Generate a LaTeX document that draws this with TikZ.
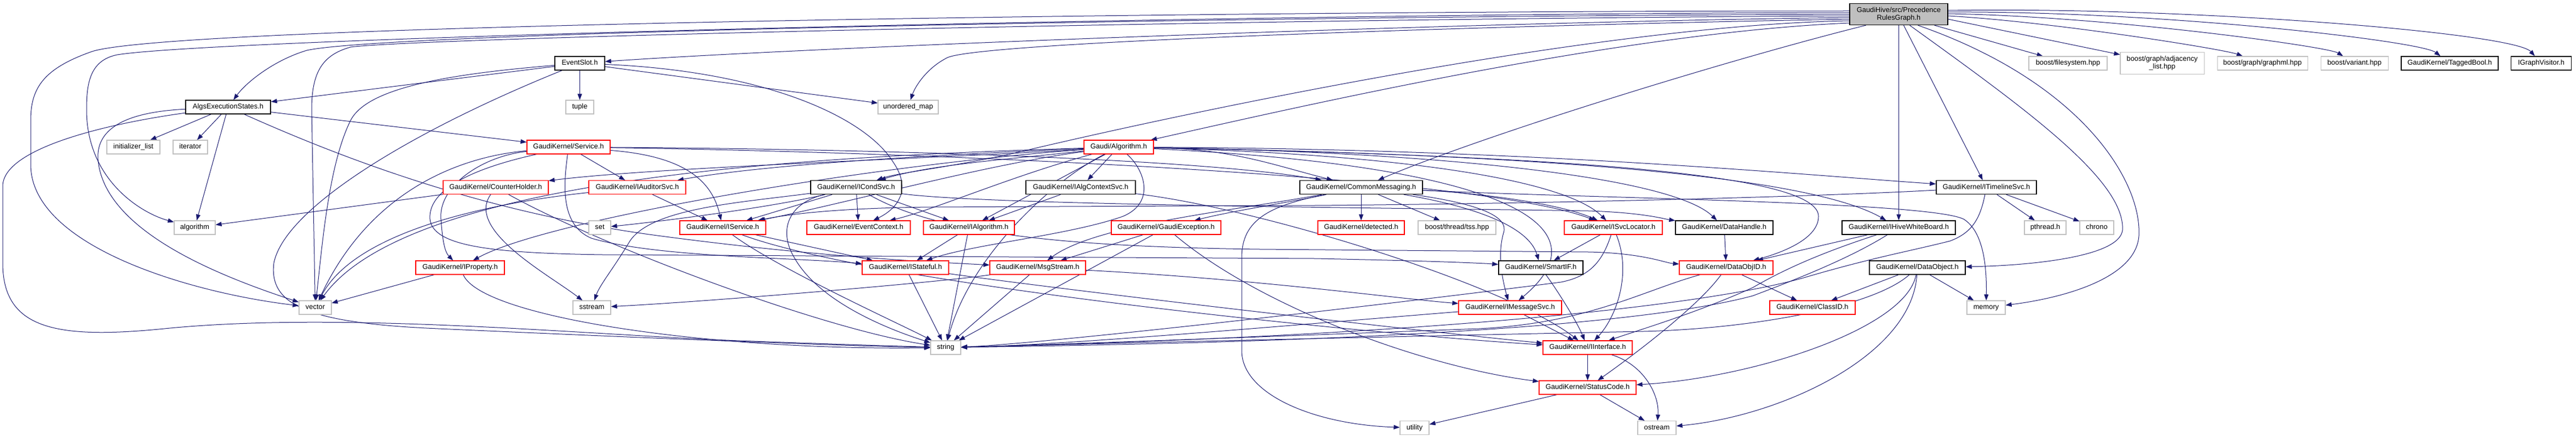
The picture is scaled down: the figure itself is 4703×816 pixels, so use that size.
\documentclass[tikz,border=0pt]{standalone}
\usepackage{fontspec}
\setmainfont{Liberation Sans}
\usetikzlibrary{arrows.meta}
\definecolor{edgeblue}{RGB}{25,25,112}
\definecolor{sysgray}{RGB}{192,192,192}
\definecolor{rootfill}{RGB}{191,191,191}
\pgfdeclarelayer{edgelayer}
\pgfsetlayers{edgelayer,main}
\tikzset{
  nodebase/.style={rectangle, inner sep=0pt, fill=white, font=\fontsize{12.9}{14}\selectfont, align=center},
  oneline/.style={nodebase, minimum height=25pt, text height=9.4pt, text depth=2.6pt},
  sysnode/.style={oneline, draw=sysgray, line width=1.1pt},
  rednode/.style={oneline, draw=red, line width=1.1pt},
  blknode/.style={oneline, draw=black, line width=1.4pt},
  rootnode/.style={nodebase, draw=black, fill=rootfill, line width=1.4pt, minimum height=39pt},
  sysnodetwo/.style={nodebase, draw=sysgray, line width=1.1pt, minimum height=40pt},
  dep/.style={draw=edgeblue, line width=1pt, -{Triangle[length=11pt,width=8pt]}},
}
\begin{document}
\begin{tikzpicture}[x=1pt,y=-1pt]
\useasboundingbox (0,0) rectangle (4703,816);
% ---------- nodes ----------
\node[rootnode, minimum width=179pt] (R) at (3466.5,26) {GaudiHive/src/Precedence\\RulesGraph.h};
\node[blknode, minimum width=91pt] (es) at (1058.5,115.5) {EventSlot.h};
\node[sysnode, minimum width=143pt] (fs) at (3775.5,115.5) {boost/filesystem.hpp};
\node[sysnodetwo, minimum width=153pt] (adj) at (3947.5,115.5) {boost/graph/adjacency\\\_list.hpp};
\node[sysnode, minimum width=165pt] (gml) at (4130.5,115.5) {boost/graph/graphml.hpp};
\node[sysnode, minimum width=123pt] (var) at (4298.5,115.5) {boost/variant.hpp};
\node[blknode, minimum width=177pt] (tb) at (4472.5,115.5) {GaudiKernel/TaggedBool.h};
\node[blknode, minimum width=110pt] (igv) at (4639.5,115.5) {IGraphVisitor.h};
\node[blknode, minimum width=155pt] (aes) at (416.5,195.5) {AlgsExecutionStates.h};
\node[sysnode, minimum width=51pt] (tuple) at (1058.5,195.5) {tuple};
\node[sysnode, minimum width=110pt] (umap) at (1658,195.5) {unordered\_map};
\node[sysnode, minimum width=97pt] (initl) at (243.5,268.5) {initializer\_list};
\node[sysnode, minimum width=63pt] (iter) at (347.5,268.5) {iterator};
\node[rednode, minimum width=152pt] (svc) at (1038,268.5) {GaudiKernel/Service.h};
\node[rednode, minimum width=127pt] (alg) at (2042.5,268.5) {Gaudi/Algorithm.h};
\node[rednode, minimum width=192pt] (ch) at (905,342) {GaudiKernel/CounterHolder.h};
\node[rednode, minimum width=177pt] (iaud) at (1163.5,342) {GaudiKernel/IAuditorSvc.h};
\node[blknode, minimum width=166pt] (icond) at (1563,342) {GaudiKernel/ICondSvc.h};
\node[blknode, minimum width=200pt] (iactx) at (1973,342) {GaudiKernel/IAlgContextSvc.h};
\node[blknode, minimum width=224pt] (cm) at (2485,342) {GaudiKernel/CommonMessaging.h};
\node[blknode, minimum width=183pt] (itl) at (3626.5,342) {GaudiKernel/ITimelineSvc.h};
\node[sysnode, minimum width=75pt] (algo) at (355.5,415.5) {algorithm};
\node[sysnode, minimum width=40pt] (nset) at (1095,415.5) {set};
\node[rednode, minimum width=157pt] (isvc) at (1319.5,415.5) {GaudiKernel/IService.h};
\node[rednode, minimum width=189pt] (ec) at (1567.5,415.5) {GaudiKernel/EventContext.h};
\node[rednode, minimum width=166pt] (ialg) at (1769,415.5) {GaudiKernel/IAlgorithm.h};
\node[rednode, minimum width=200pt] (ge) at (2129,415.5) {GaudiKernel/GaudiException.h};
\node[rednode, minimum width=158pt] (det) at (2485,415.5) {GaudiKernel/detected.h};
\node[sysnode, minimum width=142pt] (tss) at (2660,415.5) {boost/thread/tss.hpp};
\node[rednode, minimum width=179pt] (isvcloc) at (2945.5,415.5) {GaudiKernel/ISvcLocator.h};
\node[blknode, minimum width=178pt] (dh) at (3148,415.5) {GaudiKernel/DataHandle.h};
\node[blknode, minimum width=207pt] (ihwb) at (3466.5,415.5) {GaudiKernel/IHiveWhiteBoard.h};
\node[sysnode, minimum width=76pt] (pthr) at (3734,415.5) {pthread.h};
\node[sysnode, minimum width=62pt] (chrono) at (3828,415.5) {chrono};
\node[rednode, minimum width=162pt] (iprop) at (840,488.5) {GaudiKernel/IProperty.h};
\node[rednode, minimum width=158pt] (istate) at (1653,488.5) {GaudiKernel/IStateful.h};
\node[rednode, minimum width=175pt] (msg) at (1894.5,488.5) {GaudiKernel/MsgStream.h};
\node[blknode, minimum width=154pt] (smartif) at (2813,488.5) {GaudiKernel/SmartIF.h};
\node[rednode, minimum width=171pt] (doid) at (3151.5,488.5) {GaudiKernel/DataObjID.h};
\node[blknode, minimum width=175pt] (dobj) at (3500.5,488.5) {GaudiKernel/DataObject.h};
\node[sysnode, minimum width=59pt] (nvector) at (575.5,561.5) {vector};
\node[sysnode, minimum width=69pt] (sstream) at (1080.5,561.5) {sstream};
\node[rednode, minimum width=188pt] (imsg) at (2757,561.5) {GaudiKernel/IMessageSvc.h};
\node[rednode, minimum width=156pt] (classid) at (3309,561.5) {GaudiKernel/ClassID.h};
\node[sysnode, minimum width=70pt] (nmemory) at (3626,561.5) {memory};
\node[sysnode, minimum width=55pt] (nstring) at (1726.5,634.5) {string};
\node[rednode, minimum width=163pt] (iinterf) at (2898.5,634.5) {GaudiKernel/IInterface.h};
\node[rednode, minimum width=177pt] (sc) at (2898.5,707.5) {GaudiKernel/StatusCode.h};
\node[sysnode, minimum width=53pt] (utility) at (2582.5,781) {utility};
\node[sysnode, minimum width=70pt] (ostream) at (3025,781) {ostream};
% ---------- edges ----------
\begin{pgfonlayer}{edgelayer}
\fill[white] (0,0) rectangle (4703,816);
% root
\draw[dep] ([yshift=7pt]R.east) .. controls (4000,12) and (4590,60) .. (igv);
\draw[dep] ([yshift=4pt]R.east) .. controls (3950,20) and (4420,75) .. (tb);
\draw[dep] ([yshift=1pt]R.east) .. controls (3850,30) and (4250,85) .. (var);
\draw[dep] ([yshift=-3pt]R.east) .. controls (3750,40) and (4060,90) .. (gml);
\draw[dep] ([yshift=-9pt]R.east) -- (adj);
\draw[dep] ([xshift=-25pt]R.south east) -- (fs);
\draw[dep] ([xshift=9pt]R.south) -- (itl);
\draw[dep] (R) -- (ihwb);
\draw[dep] ([xshift=20pt]R.south) .. controls (3700,200) and (3880,330) .. (3875,420) .. controls (3870,470) and (3700,485) .. (dobj);
\draw[dep] ([xshift=35pt]R.south) .. controls (3800,150) and (3910,330) .. (3905,430) .. controls (3900,510) and (3760,545) .. (nmemory);
\draw[dep] ([xshift=-60pt]R.south) .. controls (3150,110) and (2700,250) .. (cm);
\draw[dep] ([yshift=-16pt]R.west) .. controls (2950,60) and (2350,200) .. (alg);
\draw[dep] ([yshift=-12pt]R.west) .. controls (2950,45) and (2250,185) .. (1850,280) .. controls (1720,308) and (1640,315) .. (icond);
\draw[dep] ([yshift=-9pt]R.west) .. controls (2800,45) and (1800,75) .. (1730,105) .. controls (1690,125) and (1670,160) .. (umap);
\draw[dep] ([yshift=-6pt]R.west) .. controls (2700,40) and (1500,85) .. (es);
\draw[dep] ([yshift=0pt]R.west) .. controls (2200,30) and (700,60) .. (560,92) .. controls (500,110) and (450,150) .. (aes);
\draw[dep] ([yshift=3pt]R.west) .. controls (2200,25) and (400,70) .. (214,100) .. controls (165,110) and (158,150) .. (158,200) .. controls (158,330) and (260,390) .. (algo);
\draw[dep] ([yshift=6pt]R.west) .. controls (2200,20) and (320,45) .. (168,94) .. controls (80,125) and (56,160) .. (56,220) -- (56,300) .. controls (56,450) and (350,535) .. (nvector);
\draw[dep] ([yshift=-3pt]R.west) .. controls (2200,35) and (750,70) .. (640,86) .. controls (590,100) and (569,130) .. (569,200) -- (nvector);
% EventSlot
\draw[dep] (es) -- (tuple);
\draw[dep] (es) -- (umap);
\draw[dep] (es) .. controls (1400,130) and (1580,215) .. (1630,295) .. controls (1665,345) and (1640,380) .. (ec);
\draw[dep] (es) -- (aes);
\draw[dep] (es) .. controls (820,135) and (670,160) .. (640,220) .. controls (600,300) and (588,450) .. (nvector);
\draw[dep] (es) .. controls (750,240) and (520,380) .. (500,480) .. controls (490,560) and (570,590) .. (800,600) .. controls (1200,618) and (1550,632) .. (nstring);
% AlgsExecutionStates
\draw[dep] (aes) -- (initl);
\draw[dep] (aes) -- (iter);
\draw[dep] (aes) -- (algo);
\draw[dep] (aes) .. controls (220,205) and (170,240) .. (180,300) .. controls (200,430) and (420,510) .. (nvector);
\draw[dep] (aes) .. controls (200,225) and (5,270) .. (5,340) -- (5,480) .. controls (5,600) and (100,620) .. (300,600) .. controls (600,570) and (1000,605) .. (1300,620) .. controls (1500,628) and (1650,632) .. (nstring);
\draw[dep] (aes) -- (svc);
\draw[dep] (aes) .. controls (650,300) and (900,390) .. (1200,430) .. controls (1500,470) and (1700,478) .. (msg);
% Service
\draw[dep] (svc) -- (iaud);
\draw[dep] (svc) .. controls (1250,285) and (1300,330) .. (isvc);
\draw[dep] (svc) .. controls (880,285) and (800,340) .. (805,400) .. controls (808,440) and (812,460) .. (iprop);
\draw[dep] (svc) .. controls (1030,330) and (1020,410) .. (1080,435) .. controls (1200,470) and (1450,470) .. (istate);
\draw[dep] (svc) .. controls (1600,272) and (2200,290) .. (cm);
\draw[dep] (svc) .. controls (1700,278) and (2700,320) .. (isvcloc);
\draw[dep] (svc) .. controls (920,295) and (780,330) .. (785,400) .. controls (790,450) and (900,462) .. (1100,465) -- (2400,472) .. controls (2600,476) and (2700,480) .. (smartif);
\draw[dep] (svc) .. controls (850,285) and (680,340) .. (nvector);
% Algorithm
\draw[dep] (alg) .. controls (1700,290) and (1200,305) .. (ch);
\draw[dep] (alg) .. controls (1700,283) and (1400,300) .. (iaud);
\draw[dep] (alg) .. controls (1850,290) and (1700,300) .. (icond);
\draw[dep] (alg) .. controls (1800,300) and (1550,370) .. (isvc);
\draw[dep] (alg) .. controls (1850,320) and (1700,385) .. (ec);
\draw[dep] (alg) .. controls (1600,300) and (1000,400) .. (iprop);
\draw[dep] (alg) .. controls (1500,285) and (750,320) .. (nvector);
\draw[dep] (alg) .. controls (1920,330) and (1770,470) .. (nstring);
\draw[dep] (alg) .. controls (2090,310) and (2110,370) .. (2050,395) .. controls (1950,430) and (1780,445) .. (istate);
\draw[dep] (alg) -- (ialg);
\draw[dep] (alg) -- (iactx);
\draw[dep] (alg) .. controls (2250,272) and (2320,300) .. (cm);
\draw[dep] (alg) .. controls (2500,280) and (2850,320) .. (isvcloc);
\draw[dep] (alg) .. controls (2600,277) and (3050,320) .. (dh);
\draw[dep] (alg) .. controls (2800,282) and (3300,320) .. (ihwb);
\draw[dep] (alg) .. controls (2800,272) and (3300,320) .. (itl);
\draw[dep] (alg) .. controls (2900,286) and (3320,320) .. (3320,395) .. controls (3320,440) and (3240,465) .. (doid);
\draw[dep] (alg) .. controls (2700,300) and (2950,400) .. (imsg);
% CounterHolder
\draw[dep] (ch) -- (algo);
\draw[dep] (ch) .. controls (1100,450) and (1500,600) .. (nstring);
\draw[dep] (ch) .. controls (850,420) and (1000,500) .. (sstream);
% IAuditorSvc
\draw[dep] (iaud) -- (isvc);
\draw[dep] (iaud) .. controls (900,370) and (650,420) .. (nvector);
% ICondSvc
\draw[dep] (icond) -- (ec);
\draw[dep] (icond) -- (ialg);
\draw[dep] (icond) -- (isvc);
\draw[dep] (icond) .. controls (1400,380) and (1200,405) .. (nset);
\draw[dep] (icond) .. controls (1350,370) and (1190,380) .. (1150,440) .. controls (1120,490) and (1095,520) .. (sstream);
\draw[dep] (icond) .. controls (1800,375) and (2600,380) .. (2900,385) .. controls (3000,388) and (3040,400) .. (dh);
\draw[dep] (icond) .. controls (1700,420) and (1900,450) .. (2300,455) -- (2900,460) .. controls (3000,462) and (3040,480) .. (doid);
\draw[dep] (icond) .. controls (1440,370) and (1420,420) .. (1450,470) .. controls (1500,560) and (1650,610) .. (nstring);
% IAlgContextSvc
\draw[dep] (iactx) -- (ialg);
\draw[dep] (iactx) .. controls (2300,380) and (2750,520) .. (iinterf);
% CommonMessaging
\draw[dep] (cm) -- (det);
\draw[dep] (cm) -- (tss);
\draw[dep] (cm) .. controls (2350,370) and (2250,385) .. (ge);
\draw[dep] (cm) .. controls (2250,385) and (2000,410) .. (msg);
\draw[dep] (cm) .. controls (2700,372) and (2755,395) .. (2745,425) .. controls (2735,460) and (2740,500) .. (imsg);
\draw[dep] (cm) .. controls (2700,352) and (2850,372) .. (isvcloc);
\draw[dep] (cm) .. controls (2680,375) and (2790,410) .. (smartif);
\draw[dep] (cm) .. controls (2320,375) and (2267,400) .. (2267,470) -- (2267,640) .. controls (2267,720) and (2400,775) .. (utility);
\draw[dep] (cm) .. controls (2900,362) and (3520,368) .. (3585,400) .. controls (3625,425) and (3627,500) .. (nmemory);
% GaudiException
\draw[dep] (ge) -- (msg);
\draw[dep] (ge) -- (nstring);
\draw[dep] (ge) .. controls (2300,560) and (2600,670) .. (sc);
% MsgStream
\draw[dep] (msg) -- (nstring);
\draw[dep] (msg) .. controls (1720,515) and (1300,550) .. (sstream);
\draw[dep] (msg) .. controls (2300,510) and (2550,545) .. (imsg);
% IStateful
\draw[dep] (istate) -- (nstring);
\draw[dep] (istate) .. controls (1950,530) and (2550,600) .. (iinterf);
% IAlgorithm
\draw[dep] (ialg) -- (istate);
\draw[dep] (ialg) -- (nstring);
% IService
\draw[dep] (isvc) -- (istate);
\draw[dep] (isvc) .. controls (1420,490) and (1640,590) .. (nstring);
\draw[dep] (isvc) .. controls (1600,520) and (2500,610) .. (iinterf);
% IProperty
\draw[dep] (iprop) -- (nvector);
\draw[dep] (iprop) .. controls (880,580) and (1300,640) .. (nstring);
% ISvcLocator
\draw[dep] (isvcloc) -- (smartif);
\draw[dep] (isvcloc) .. controls (2980,500) and (2950,580) .. (iinterf);
\draw[dep] (isvcloc) .. controls (2925,480) and (2900,505) .. (2850,515) .. controls (2500,560) and (1900,628) .. (nstring);
% SmartIF
\draw[dep] (smartif) .. controls (2850,540) and (2880,590) .. (iinterf);
% IMessageSvc
\draw[dep] (imsg) -- (iinterf);
\draw[dep] (imsg) .. controls (2400,590) and (1950,630) .. (nstring);
% IInterface / StatusCode
\draw[dep] (iinterf) -- (sc);
\draw[dep] (iinterf) .. controls (3000,665) and (3030,720) .. (ostream);
\draw[dep] (sc) -- (utility);
\draw[dep] (sc) -- (ostream);
% DataHandle / DataObjID / DataObject
\draw[dep] (dh) -- (doid);
\draw[dep] (doid) -- (classid);
\draw[dep] (doid) .. controls (3100,560) and (2980,650) .. (sc);
\draw[dep] (doid) .. controls (3000,530) and (2900,590) .. (2700,600) .. controls (2300,615) and (1900,630) .. (nstring);
\draw[dep] (dobj) -- (classid);
\draw[dep] (dobj) -- (nmemory);
\draw[dep] (dobj) .. controls (3420,560) and (3200,600) .. (3000,605) .. controls (2500,615) and (1900,630) .. (nstring);
\draw[dep] (dobj) .. controls (3480,600) and (3200,690) .. (sc);
\draw[dep] (dobj) .. controls (3490,650) and (3250,760) .. (ostream);
% IHiveWhiteBoard
\draw[dep] (ihwb) -- (doid);
\draw[dep] (ihwb) .. controls (3330,460) and (3260,490) .. (3200,525) .. controls (3100,570) and (3000,600) .. (iinterf);
\draw[dep] (ihwb) .. controls (3380,470) and (3280,510) .. (3200,540) .. controls (2900,620) and (2000,630) .. (nstring);
% ITimelineSvc
\draw[dep] (itl) -- (pthr);
\draw[dep] (itl) -- (chrono);
\draw[dep] (itl) .. controls (3300,360) and (2800,372) .. (2400,375) -- (1700,378) .. controls (1500,380) and (1420,395) .. (isvc);
\draw[dep] (itl) .. controls (3615,400) and (3600,425) .. (3560,440) .. controls (3480,460) and (3420,470) .. (3300,505) .. controls (3150,550) and (2700,610) .. (nstring);
\end{pgfonlayer}
\end{tikzpicture}
\end{document}
